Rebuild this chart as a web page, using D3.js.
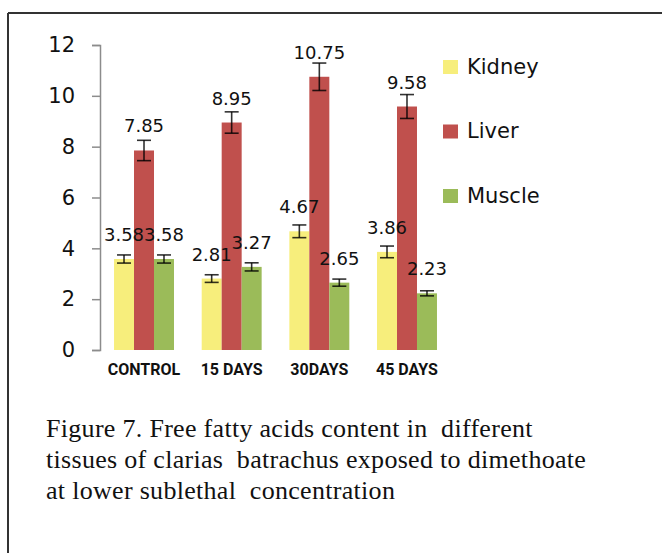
<!DOCTYPE html>
<html>
<head>
<meta charset="utf-8">
<script src="https://cdn.jsdelivr.net/npm/d3@7/dist/d3.min.js"></script>
<style>
  html, body { margin: 0; padding: 0; background: #fff; }
  svg { display: block; }
</style>
</head>
<body>
<svg id="chart" width="662" height="553"></svg>
<script>
// ── data ────────────────────────────────────────────────────────────────
var categories = ['CONTROL', '15 DAYS', '30DAYS', '45 DAYS'];
var seriesNames = ['Kidney', 'Liver', 'Muscle'];
var kidney   = [3.58, 2.81, 4.67, 3.86];
var liver    = [7.85, 8.95, 10.75, 9.58];
var muscle   = [3.58, 3.27, 2.65, 2.23];
var kidneyErr = [0.16, 0.15, 0.25, 0.23];
var liverErr  = [0.40, 0.42, 0.54, 0.47];
var muscleErr = [0.16, 0.16, 0.14, 0.10];
var yTicks = [0, 2, 4, 6, 8, 10, 12];
var captionLines = [
    'Figure 7. Free fatty acids content in  different',
    'tissues of clarias  batrachus exposed to dimethoate',
    'at lower sublethal  concentration'
];

// ── theme ───────────────────────────────────────────────────────────────
var colors = { Kidney: '#f7ee7c', Liver: '#c0504d', Muscle: '#9bbb59' };
var values = { Kidney: kidney, Liver: liver, Muscle: muscle };
var errors = { Kidney: kidneyErr, Liver: liverErr, Muscle: muscleErr };

var svg = d3.select('#chart');

// frame lines
svg.append('line').attr('x1', 8).attr('y1', 13).attr('x2', 662).attr('y2', 13)
    .attr('stroke', '#333').attr('stroke-width', 2);
svg.append('line').attr('x1', 8).attr('y1', 13).attr('x2', 8).attr('y2', 553)
    .attr('stroke', '#333').attr('stroke-width', 2);

// ── scales ──────────────────────────────────────────────────────────────
var y = d3.scaleLinear().domain([0, 12]).range([350, 45]);
var x0 = d3.scaleBand().domain(categories).range([100, 451])
    .paddingInner(0.316).paddingOuter(0.16);
var x1 = d3.scaleBand().domain(seriesNames).range([0, x0.bandwidth()]);

// ── y axis ──────────────────────────────────────────────────────────────
var yAxis = svg.append('g').attr('transform', 'translate(100,0)')
    .call(d3.axisLeft(y).tickValues(yTicks).tickSize(8).tickPadding(17));
yAxis.select('.domain').attr('stroke', '#8c8c8c').attr('stroke-width', 1.5);
yAxis.selectAll('.tick line').attr('stroke', '#8c8c8c').attr('stroke-width', 1.5);
yAxis.selectAll('.tick text')
    .attr('font-family', 'DejaVu Sans').attr('font-size', '21px').attr('fill', '#111');

// ── bars ────────────────────────────────────────────────────────────────
var groups = svg.append('g').selectAll('g').data(categories).join('g')
    .attr('transform', function (c) { return 'translate(' + x0(c) + ',0)'; });

seriesNames.forEach(function (s) {
    groups.append('rect')
        .attr('x', x1(s))
        .attr('y', function (c, i) { return y(values[s][i]); })
        .attr('width', x1.bandwidth())
        .attr('height', function (c, i) { return y(0) - y(values[s][i]); })
        .attr('fill', colors[s]);
});

// error bars
seriesNames.forEach(function (s) {
    var cx = x1(s) + x1.bandwidth() / 2;
    groups.each(function (c, i) {
        var g = d3.select(this);
        var v = values[s][i], e = errors[s][i];
        var st = { stroke: '#000', 'stroke-width': 1.6, opacity: 0.8 };
        function ln(xa, ya, xb, yb) {
            var l = g.append('line').attr('x1', xa).attr('y1', ya).attr('x2', xb).attr('y2', yb);
            Object.keys(st).forEach(function (k) { l.attr(k, st[k]); });
        }
        ln(cx, y(v + e), cx, y(v - e));
        ln(cx - 7, y(v + e), cx + 7, y(v + e));
        ln(cx - 7, y(v - e), cx + 7, y(v - e));
    });
});

// value labels
seriesNames.forEach(function (s) {
    groups.append('text')
        .attr('x', x1(s) + x1.bandwidth() / 2)
        .attr('y', function (c, i) { return y(values[s][i]) - 18; })
        .attr('text-anchor', 'middle')
        .attr('font-family', 'DejaVu Sans').attr('font-size', '18px').attr('fill', '#111')
        .text(function (c, i) { return values[s][i].toFixed(2); });
});

// category labels
svg.append('g').selectAll('text').data(categories).join('text')
    .attr('x', function (c) { return x0(c) + x0.bandwidth() / 2; })
    .attr('y', 375)
    .attr('text-anchor', 'middle')
    .attr('font-family', 'Roboto').attr('font-weight', 'bold')
    .attr('font-size', '16px').attr('fill', '#111')
    .text(function (c) { return c; });

// ── legend ──────────────────────────────────────────────────────────────
var legend = svg.append('g').selectAll('g').data(seriesNames).join('g')
    .attr('transform', function (s, i) { return 'translate(443,' + (60 + i * 64.5) + ')'; });
legend.append('rect').attr('width', 15).attr('height', 14)
    .attr('fill', function (s) { return colors[s]; });
legend.append('text').attr('x', 24).attr('y', 13.5)
    .attr('font-family', 'DejaVu Sans').attr('font-size', '21px').attr('fill', '#111')
    .text(function (s) { return s; });

// ── caption ─────────────────────────────────────────────────────────────
svg.append('g').selectAll('text').data(captionLines).join('text')
    .attr('x', 46).attr('y', function (d, i) { return 437 + i * 30.8; })
    .attr('font-family', 'Liberation Serif').attr('font-size', '26px').attr('fill', '#111')
    .attr('letter-spacing', '0.3px')
    .style('white-space', 'pre')
    .text(function (d) { return d; });
</script>
</body>
</html>
